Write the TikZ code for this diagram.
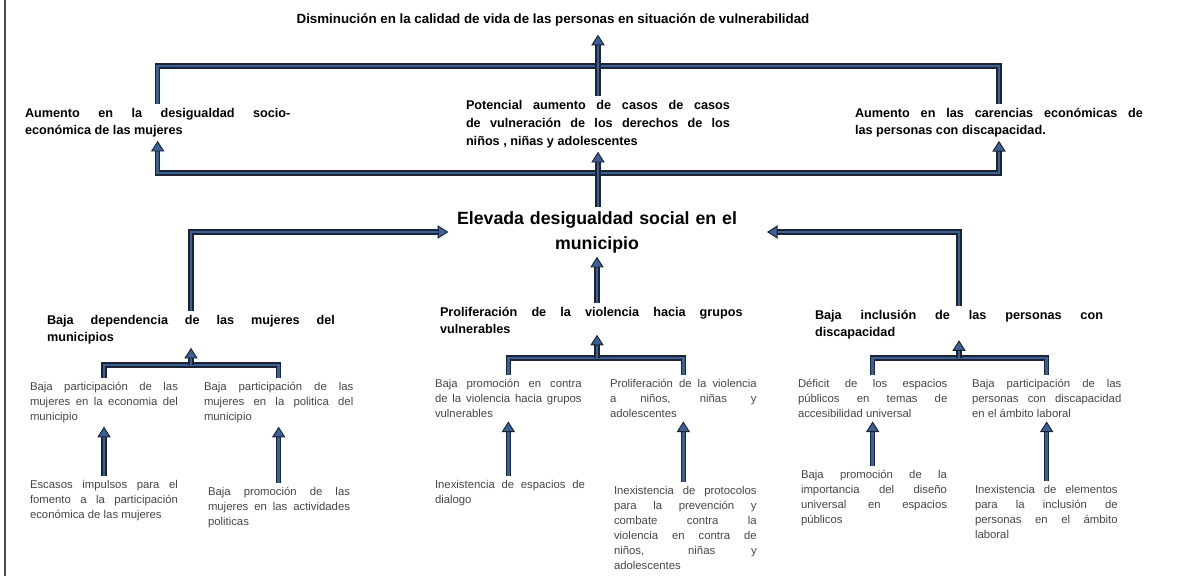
\documentclass[tikz,border=0pt]{standalone}
\usepackage{fontspec}
\setmainfont{Liberation Sans}
\usetikzlibrary{arrows.meta,calc}
\definecolor{navy}{RGB}{28,36,52}
\definecolor{steel}{RGB}{58,96,150}
\definecolor{txtgray}{RGB}{70,70,70}

\begin{document}
\begin{tikzpicture}[x=0.75pt,y=-0.75pt,>={Triangle[length=8pt,width=10pt,fill=steel,line width=0.7pt]}]

		\tikzset{conn/.style={draw=navy,line width=0.8pt,double=steel,double distance=2.2pt}}
		\tikzset{effect/.style={anchor=north west,inner sep=0pt,outer sep=3pt,align=justify,font=\fontsize{9.5}{12.75}\selectfont\bfseries}}
		\tikzset{sub/.style={anchor=north west,inner sep=0pt,outer sep=3pt,align=justify,text=txtgray,font=\fontsize{8.5}{11.25}\selectfont}}

		\useasboundingbox (0,0) rectangle (1181,578);
		\draw[line width=0.8pt,black!70] (5,0) -- (5,576);

		% effects
		\node[font=\fontsize{10}{12}\selectfont\bfseries,outer sep=3pt] (top) at (553,20) {Disminución en la calidad de vida de las personas en situación de vulnerabilidad};
		\node[effect,text width=199pt] (e1) at (21,104) {Aumento en la desigualdad socio-\linebreak económica de las mujeres};
		\node[effect,text width=198pt,font=\fontsize{9.5}{13.5}\selectfont\bfseries] (e2) at (462,96) {Potencial aumento de casos de casos\linebreak de vulneración de los derechos de los\linebreak niños , niñas y adolescentes};
		\node[effect,text width=216pt] (e3) at (851,104) {Aumento en las carencias económicas de\linebreak las personas con discapacidad.};

		% central problem
		\node[align=center,inner sep=0pt,outer sep=3pt,text width=217pt,font=\fontsize{13.3}{18.75}\selectfont\bfseries] (main) at (597,232) {Elevada desigualdad social en el\\municipio};

		% causes
		\node[effect,text width=216pt] (c1) at (43,311) {Baja dependencia de las mujeres del\linebreak municipios};
		\node[effect,text width=227pt] (c2) at (436,303) {Proliferación de la violencia hacia grupos\linebreak vulnerables};
		\node[effect,text width=216pt] (c3) at (811,306) {Baja inclusión de las personas con\linebreak discapacidad};

		\node[sub,text width=111pt] (d1) at (26,378) {Baja participación de las\linebreak mujeres en la economia del\linebreak municipio};
		\node[sub,text width=112pt] (d2) at (200,378) {Baja participación de las\linebreak mujeres en la politica del\linebreak municipio};
		\node[sub,text width=110pt] (d3) at (431,375) {Baja promoción en contra\linebreak de la violencia hacia grupos\linebreak vulnerables};
		\node[sub,text width=110pt] (d4) at (606,375) {Proliferación de la violencia\linebreak a niños, niñas y\linebreak adolescentes};
		\node[sub,text width=112pt] (d5) at (794,375) {Déficit de los espacios\linebreak públicos en temas de\linebreak accesibilidad universal};
		\node[sub,text width=112pt] (d6) at (968,375) {Baja participación de las\linebreak personas con discapacidad\linebreak en el ámbito laboral};

		\node[sub,text width=111pt] (f1) at (26,476) {Escasos impulsos para el\linebreak fomento a la participación\linebreak económica de las mujeres};
		\node[sub,text width=106.5pt] (f2) at (204,483) {Baja promoción de las\linebreak mujeres en las actividades\linebreak politicas};
		\node[sub,text width=112.5pt] (f3) at (431,476) {Inexistencia de espacios de\linebreak dialogo};
		\node[sub,text width=107pt] (f4) at (610,482) {Inexistencia de protocolos\linebreak para la prevención y\linebreak combate contra la\linebreak violencia en contra de\linebreak niños, niñas y\linebreak adolescentes};
		\node[sub,text width=109.5pt] (f5) at (797,466) {Baja promoción de la\linebreak importancia del diseño\linebreak universal en espacios\linebreak públicos};
		\node[sub,text width=107pt] (f6) at (971,481) {Inexistencia de elementos\linebreak para la inclusión de\linebreak personas en el ámbito\linebreak laboral};

		% connectors
		\coordinate (tb) at (0,66);
		\coordinate (lb) at (0,173);
		\draw[conn] (e1.north) -- (e1.north |- tb) -- (e3.north |- tb) -- (e3.north);
		\draw[conn,->] (e2.north) -- (e2.north |- top.south);
		\draw[conn,<->] (e1.south) -- (e1.south |- lb) -- (e3.south |- lb) -- (e3.south);
		\draw[conn,->] (main.north -| e2.south) -- (e2.south);

		\draw[conn,->] (c1.north) |- (main.west);
		\draw[conn,->] (c3.north) |- ([xshift=16pt]main.east);
		\draw[conn,->] (c2.north -| main.south) -- (main.south);

		\coordinate (k1) at (c1.south |- 0,365);
		\coordinate (k2) at (main.south |- 0,358);
		\coordinate (k3) at (c3.south |- 0,358);
		\draw[conn] (d1.north) |- (k1) -| (d2.north);
		\draw[conn,->] (k1) -- (c1.south);
		\draw[conn] (d3.north) |- (k2) -| (d4.north);
		\draw[conn,->] (k2) -- ([yshift=2pt]k2 |- c2.south);
		\draw[conn] (d5.north) |- (k3) -| (d6.north);
		\draw[conn,->] (k3) -- ([yshift=2pt]c3.south);

		\foreach \i in {1,...,6}
			\draw[conn,->] (d\i.south |- f\i.north) -- (d\i.south);

\end{tikzpicture}
\end{document}
